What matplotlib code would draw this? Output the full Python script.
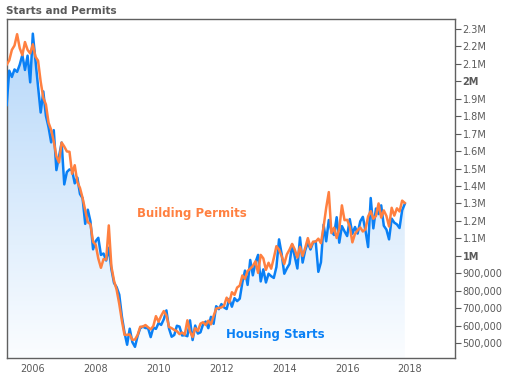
import numpy as np
import matplotlib
matplotlib.use("Agg")
import matplotlib.pyplot as plt
from matplotlib.ticker import FixedLocator, FuncFormatter
from matplotlib.colors import LinearSegmentedColormap

# monthly data, Mar 2005 - Nov 2017, thousands of units (SAAR)
start_year = 2005
start_month = 3

housing_starts = [
    1864, 2061, 2025, 2068, 2054, 2095, 2151, 2065, 2147, 1994,
    2273, 2119, 1969, 1821, 1942, 1802, 1737, 1650, 1720, 1491, 1570, 1649,
    1409, 1480, 1495, 1490, 1415, 1448, 1354, 1330, 1183, 1264, 1197, 1037,
    1084, 1103, 1005, 1013, 973, 1046, 923, 844, 820, 777, 652, 560,
    490, 582, 505, 478, 540, 585, 594, 586, 585, 534, 588, 581,
    614, 604, 636, 687, 583, 536, 546, 599, 594, 543, 545, 539,
    630, 517, 600, 554, 561, 608, 623, 585, 650, 610, 711, 694,
    723, 704, 695, 753, 708, 757, 740, 754, 847, 915, 833, 976,
    888, 962, 1005, 853, 922, 847, 897, 883, 873, 936, 1094, 1010,
    897, 928, 954, 1064, 995, 927, 1105, 961, 1032, 1077, 1036, 1076,
    1082, 908, 963, 1178, 1083, 1205, 1142, 1119, 1221, 1075, 1170, 1140,
    1113, 1210, 1126, 1165, 1127, 1197, 1223, 1145, 1050, 1331, 1157, 1271,
    1239, 1289, 1172, 1150, 1094, 1213, 1190, 1180, 1159, 1261, 1297,
]

building_permits = [
    2095, 2120, 2180, 2205, 2270, 2190, 2150, 2225, 2180, 2160,
    2212, 2141, 2118, 1998, 1905, 1867, 1763, 1722, 1655, 1570, 1535, 1649,
    1626, 1598, 1596, 1470, 1519, 1422, 1389, 1331, 1261, 1192, 1181, 1080,
    1063, 984, 931, 981, 978, 1174, 938, 857, 805, 724, 628, 547,
    547, 549, 518, 520, 546, 593, 594, 603, 590, 578, 597, 654,
    622, 656, 683, 658, 592, 585, 575, 568, 551, 560, 548, 630,
    566, 534, 585, 569, 611, 619, 603, 628, 607, 654, 697, 701,
    704, 714, 760, 732, 791, 776, 818, 829, 887, 868, 913, 926,
    942, 968, 902, 1005, 985, 919, 960, 926, 987, 1055, 1035, 998,
    953, 1008, 1035, 1068, 1036, 990, 1051, 999, 1046, 1101, 1047, 1081,
    1081, 1098, 1072, 1165, 1275, 1365, 1130, 1161, 1102, 1155, 1289, 1204,
    1206, 1167, 1077, 1126, 1146, 1162, 1139, 1152, 1225, 1256, 1212, 1228,
    1300, 1219, 1260, 1228, 1168, 1275, 1230, 1272, 1254, 1316, 1303,
]

year_ticks = list(range(2006, 2020, 2))
y_ticks = list(range(500000, 2300001, 100000))

starts = np.array(housing_starts) * 1000.0
permits = np.array(building_permits) * 1000.0
x = start_year + (start_month - 1 + np.arange(len(starts))) / 12.0

blue = "#0a80f5"
orange = "#ff8040"
gray = "#5a5a5a"

fig = plt.figure(figsize=(5.05, 3.75), dpi=100)
ax = fig.add_axes([0.0129, 0.0453, 0.888, 0.904])

xmin, xmax = 2005.163, 2019.43
ymin, ymax = 414000, 2357000
ax.set_xlim(xmin, xmax)
ax.set_ylim(ymin, ymax)

# gradient fill under housing starts
cmap = LinearSegmentedColormap.from_list("fill", ["#fbfdff", "#b3d6f9"])
grad = np.linspace(0, 1, 256).reshape(-1, 1)
im = ax.imshow(grad, cmap=cmap, aspect="auto", origin="lower",
               extent=[xmin, xmax, ymin, ymax], zorder=1)
poly = ax.fill_between(x, starts, ymin, color="none", lw=0)
im.set_clip_path(poly.get_paths()[0], transform=ax.transData)

ax.plot(x, starts, color=blue, lw=1.8, zorder=3)
ax.plot(x, permits, color=orange, lw=1.8, zorder=4)

ax.text(2011.05, 1240000, "Building Permits", color=orange, fontsize=8.5,
        fontweight="bold", ha="center", va="center")
ax.text(2013.7, 550000, "Housing Starts", color=blue, fontsize=8.5,
        fontweight="bold", ha="center", va="center")

def yfmt(v, pos):
    if v >= 1000000:
        s = "%.1f" % (v / 1e6)
        if s.endswith(".0"):
            s = s[:-2]
        return s + "M"
    return "{:,}".format(int(v))

ax.yaxis.tick_right()
ax.yaxis.set_major_locator(FixedLocator(y_ticks))
ax.yaxis.set_major_formatter(FuncFormatter(yfmt))
ax.tick_params(axis="y", colors=gray, labelsize=7, length=4, width=0.8, pad=1.5)
for lab in ax.get_yticklabels():
    if lab.get_text() in ("1M", "2M"):
        lab.set_fontweight("bold")

ax.xaxis.set_major_locator(FixedLocator(year_ticks))
ax.xaxis.set_major_formatter(FuncFormatter(lambda v, p: "%d" % v))
ax.tick_params(axis="x", colors=gray, labelsize=7, length=0, pad=4)

for sp in ax.spines.values():
    sp.set_color("#606060")
    sp.set_linewidth(1.0)

fig.text(0.012, 0.972, "Starts and Permits", color=gray, fontsize=7.5,
         fontweight="bold", ha="left", va="center")

fig.savefig("out.png", dpi=100)
